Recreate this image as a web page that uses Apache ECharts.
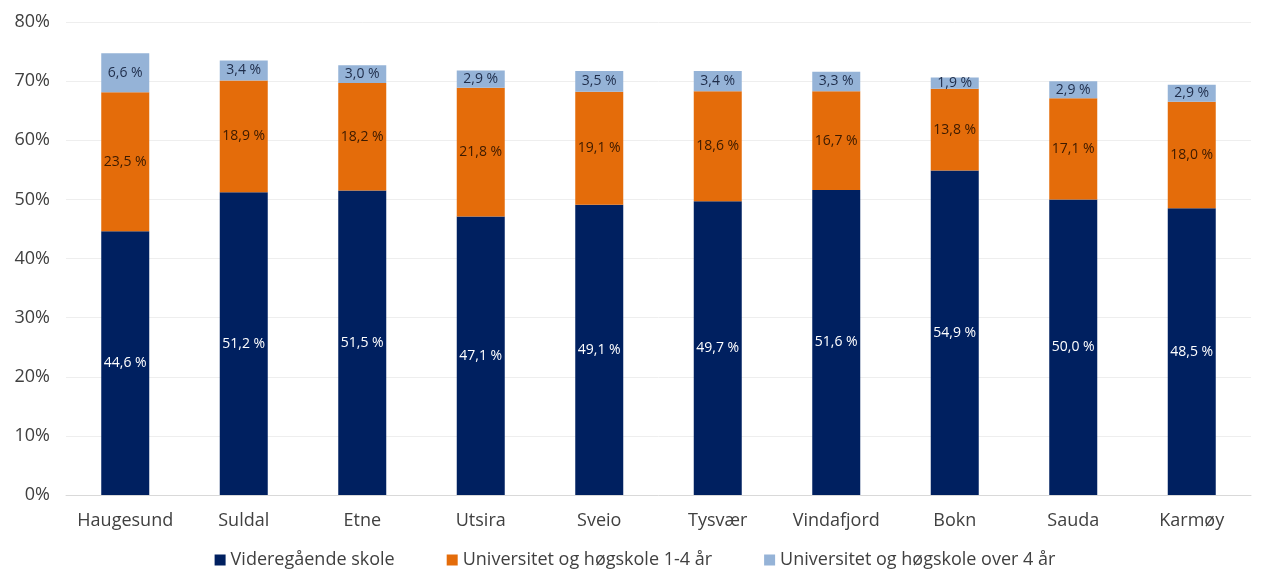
<!DOCTYPE html>
<html>
<head>
<meta charset="utf-8">
<script src="https://cdn.jsdelivr.net/npm/echarts@6/dist/echarts.min.js"></script>
<style>
  html, body { margin: 0; padding: 0; background: #fff; }
  #chart { width: 1270px; height: 570px; }
</style>
</head>
<body>
<div id="chart"></div>
<script>
// kommuner
const kommuner = ['Haugesund', 'Suldal', 'Etne', 'Utsira', 'Sveio', 'Tysvær', 'Vindafjord', 'Bokn', 'Sauda', 'Karmøy'];
const seriesNames = ['Videregående skole', 'Universitet og høgskole 1-4 år', 'Universitet og høgskole over 4 år'];
const videregaende = [44.6, 51.2, 51.5, 47.1, 49.1, 49.7, 51.6, 54.9, 50.0, 48.5];
const uni14 = [23.5, 18.9, 18.2, 21.8, 19.1, 18.6, 16.7, 13.8, 17.1, 18.0];
const uniOver4 = [6.6, 3.4, 3.0, 2.9, 3.5, 3.4, 3.3, 1.9, 2.9, 2.9];

const chart = echarts.init(document.getElementById('chart'));

function fmt(p) {
  return p.value.toFixed(1).replace('.', ',') + ' %';
}

function bar(name, data, color, labelColor) {
  return {
    name: name,
    type: 'bar',
    stack: 'total',
    data: data,
    barWidth: 48,
    itemStyle: { color: color },
    label: {
      show: true,
      position: 'inside',
      formatter: fmt,
      color: labelColor,
      fontSize: 14,
      fontFamily: 'Open Sans'
    }
  };
}

chart.setOption({
  animation: false,
  textStyle: { fontFamily: 'Open Sans' },
  grid: { left: 66, right: 19, top: 22, bottom: 75 },
  legend: {
    bottom: -4,
    left: 'center',
    itemWidth: 11,
    itemHeight: 11,
    itemGap: 52,
    icon: 'rect',
    textStyle: { fontSize: 18, color: '#404040', fontFamily: 'Open Sans' },
    data: seriesNames
  },
  xAxis: {
    type: 'category',
    data: kommuner,
    axisLine: { lineStyle: { color: '#d9d9d9' } },
    axisTick: { show: false },
    axisLabel: { fontSize: 18, color: '#404040', margin: 17, interval: 0 }
  },
  yAxis: {
    type: 'value',
    min: 0,
    max: 80,
    interval: 10,
    axisLabel: { formatter: '{value}%', fontSize: 18, color: '#404040', margin: 16 },
    splitLine: { lineStyle: { color: '#eeeeee' } }
  },
  series: [
    bar(seriesNames[0], videregaende, '#002060', '#ffffff'),
    bar(seriesNames[1], uni14, '#E46C0A', '#3b1a00'),
    bar(seriesNames[2], uniOver4, '#95B3D7', '#1f2d4a')
  ]
});
</script>
</body>
</html>
